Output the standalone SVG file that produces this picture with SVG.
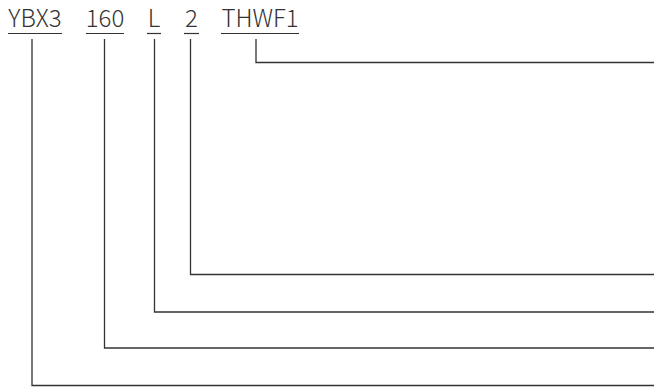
<svg xmlns="http://www.w3.org/2000/svg" width="654" height="387" viewBox="0 0 654 387">
<style>
.t{font-family:"Noto Sans CJK SC","Noto Sans","Liberation Sans",sans-serif;font-size:24px;font-weight:300;fill:#333;text-anchor:middle}
.u{stroke:#333;stroke-width:1.2;fill:none}
.c{stroke:#333;stroke-width:1.3;fill:none}
</style>
<rect width="654" height="387" fill="#fff"/>
<g id="node-ybx3"><text class="t" x="35" y="26.5">YBX3</text><line class="u" x1="8" y1="33.5" x2="62" y2="33.5"/></g>
<g id="node-160"><text class="t" x="105" y="26.5">160</text><line class="u" x1="86" y1="33.5" x2="124" y2="33.5"/></g>
<g id="node-l"><text class="t" x="154" y="26.5">L</text><line class="u" x1="147" y1="33.5" x2="161" y2="33.5"/></g>
<g id="node-2"><text class="t" x="191.5" y="26.5">2</text><line class="u" x1="184" y1="33.5" x2="199" y2="33.5"/></g>
<g id="node-thwf1"><text class="t" x="260" y="26.5">THWF1</text><line class="u" x1="221" y1="33.5" x2="299" y2="33.5"/></g>
<g id="connectors">
<polyline class="c" points="256,39 256,62.5 654,62.5"/>
<polyline class="c" points="190.5,39 190.5,274.5 654,274.5"/>
<polyline class="c" points="154.5,39 154.5,312 654,312"/>
<polyline class="c" points="104.5,39 104.5,348 654,348"/>
<polyline class="c" points="32,39 32,385.5 654,385.5"/>
</g>
</svg>
